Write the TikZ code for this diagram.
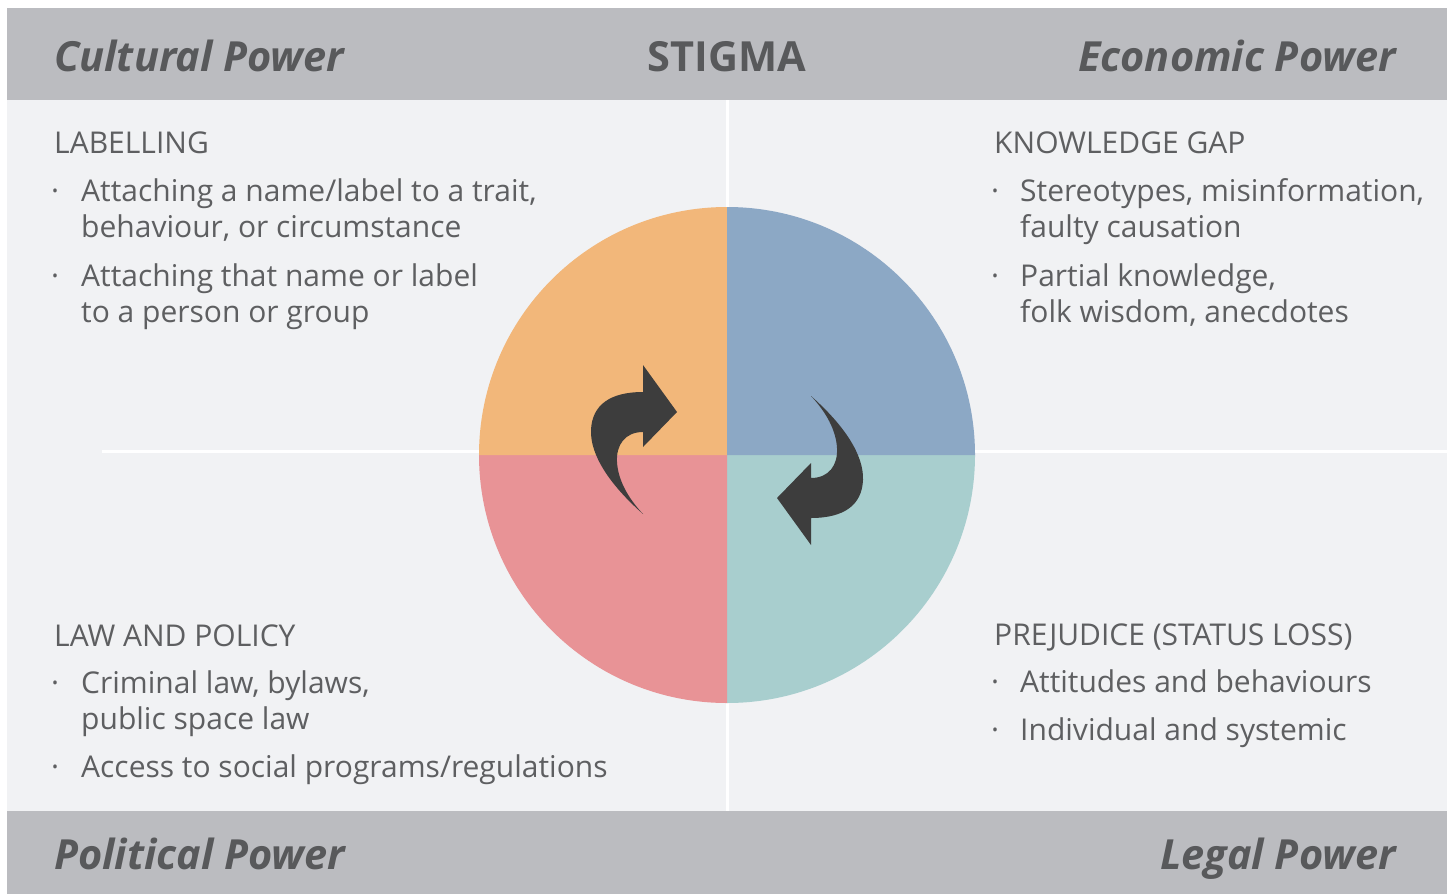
\documentclass[tikz,border=0pt]{standalone}
\usepackage{fontspec}
\setmainfont{Open Sans}
\usepackage{xcolor}
\usepackage{tikz}

\definecolor{bargray}{HTML}{BBBCC0}
\definecolor{bggray}{HTML}{F1F2F4}
\definecolor{txtgray}{HTML}{58595B}
\definecolor{bodygray}{HTML}{5E5F61}
\definecolor{qorange}{HTML}{F2B77A}
\definecolor{qblue}{HTML}{8CA8C5}
\definecolor{qpink}{HTML}{E89396}
\definecolor{qteal}{HTML}{A8CECE}
\definecolor{arrowgray}{HTML}{3D3D3D}

\tikzset{
  power/.style={font=\fontsize{41.5}{48}\selectfont\bfseries\itshape, text=txtgray, inner sep=0pt},
  stigmatitle/.style={font=\fontsize{41.5}{48}\selectfont\bfseries, text=txtgray, inner sep=0pt, anchor=base},
  body/.style={font=\fontsize{30}{36}\selectfont, text=bodygray, inner sep=0pt, anchor=base west},
  bullet/.style={font=\fontsize{30}{36}\selectfont, text=bodygray, inner sep=0pt, anchor=base},
  turnarrow/.pic={
    \fill[arrowgray] (-84,59) .. controls (-117,30) and (-137,0) .. (-136,-25)
      .. controls (-135,-50) and (-117,-63) .. (-84,-63)
      -- (-84,-90) -- (-50,-43) -- (-84,-8) -- (-84,-23)
      .. controls (-102,-23) and (-111,-10) .. (-110,7)
      .. controls (-109,25) and (-99,43) .. (-84,59) -- cycle;
  }
}

\begin{document}
\begin{tikzpicture}[x=1pt,y=-1pt]
\useasboundingbox (0,0) rectangle (1450,894);
% background and bars
\fill[bggray] (7,100) rectangle (1447,811);
\fill[bargray] (7,8) rectangle (1447,100);
\fill[bargray] (7,811) rectangle (1447,894);
\draw[white, line width=3] (727,100) -- (727,811);
\draw[white, line width=3] (102,451) -- (1447,451);

% the four quarters
\coordinate (c) at (727,455);
\fill[qteal] (c) -- ++(248,0) arc[start angle=0, end angle=90, radius=248] -- cycle;
\fill[qpink] (c) -- ++(0,248) arc[start angle=90, end angle=180, radius=248] -- cycle;
\fill[qorange] (c) -- ++(-248,0) arc[start angle=180, end angle=270, radius=248] -- cycle;
\fill[qblue] (c) -- ++(0,-248) arc[start angle=270, end angle=360, radius=248] -- cycle;

% turning arrows
\pic at (c) {turnarrow};
\pic[rotate=180] at (c) {turnarrow};

% bar titles
\node[power, anchor=base west] (cultural) at (54,71) {Cultural Power};
\node[stigmatitle] (stigma) at (727,71) {STIGMA};
\node[power, anchor=base east] (economic) at (1396,71) {Economic Power};
\node[power, anchor=base west] (political) at (54,869) {Political Power};
\node[power, anchor=base east] (legal) at (1396,869) {Legal Power};

% labelling
\node[body] (labelling) at (54,153) {LABELLING};
\node[bullet] (lb1) at (55,201) {·};
\node[body] (l1a) at (81,201) {Attaching a name/label to a trait,};
\node[body] (l1b) at (81,237) {behaviour, or circumstance};
\node[bullet] (lb2) at (55,286) {·};
\node[body] (l2a) at (81,286) {Attaching that name or label};
\node[body] (l2b) at (81,322) {to a person or group};

% knowledge gap
\node[body] (knowledge) at (994,153) {KNOWLEDGE GAP};
\node[bullet] (kb1) at (995,201) {·};
\node[body] (k1a) at (1020,201) {Stereotypes, misinformation,};
\node[body] (k1b) at (1020,237) {faulty causation};
\node[bullet] (kb2) at (995,286) {·};
\node[body] (k2a) at (1020,286) {Partial knowledge,};
\node[body] (k2b) at (1020,322) {folk wisdom, anecdotes};

% law and policy
\node[body] (law) at (54,646) {LAW AND POLICY};
\node[bullet] (pb1) at (55,693) {·};
\node[body] (p1a) at (81,693) {Criminal law, bylaws,};
\node[body] (p1b) at (81,729) {public space law};
\node[bullet] (pb2) at (55,777) {·};
\node[body] (p2a) at (81,777) {Access to social programs/regulations};

% prejudice
\node[body] (prejudice) at (994,645) {PREJUDICE (STATUS LOSS)};
\node[bullet] (jb1) at (995,692) {·};
\node[body] (j1a) at (1020,692) {Attitudes and behaviours};
\node[bullet] (jb2) at (995,740) {·};
\node[body] (j2a) at (1020,740) {Individual and systemic};
\end{tikzpicture}
\end{document}
